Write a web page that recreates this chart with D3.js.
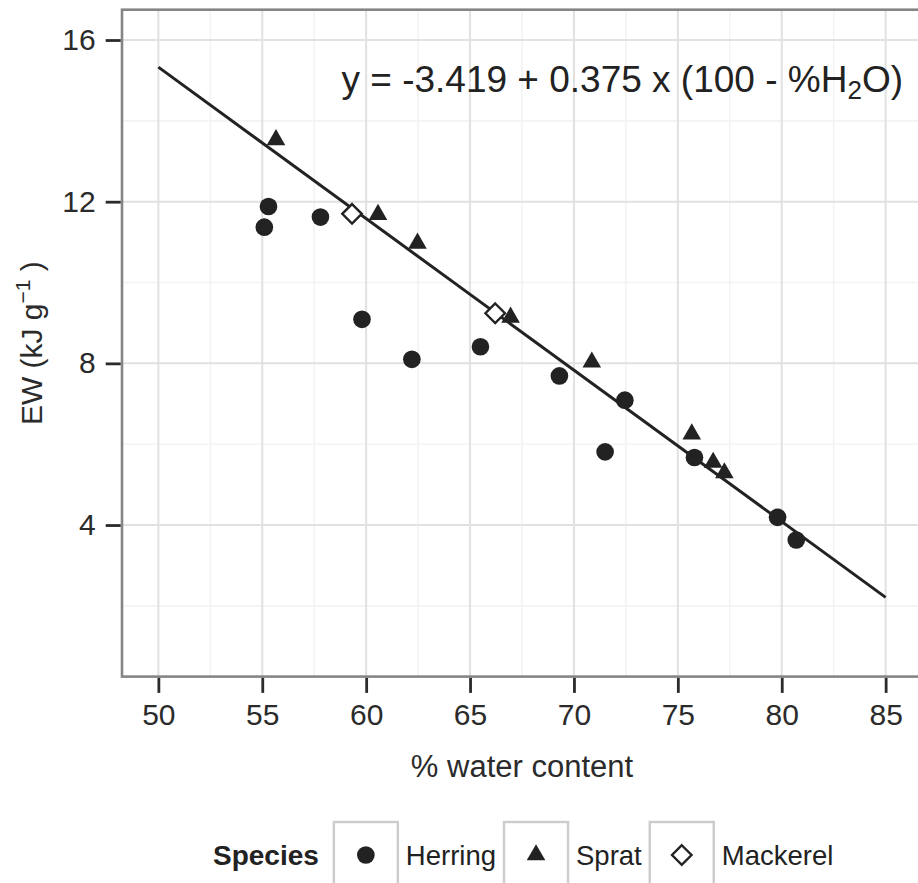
<!DOCTYPE html>
<html>
<head>
<meta charset="utf-8">
<script src="https://cdn.jsdelivr.net/npm/d3@7"></script>
<style>
  body { margin: 0; background: #fff; }
  svg { display: block; font-family: "Liberation Sans", Arial, sans-serif; }
  .axis text { fill: #2b2b2b; }
  .axis line { stroke: #2b2b2b; }
</style>
</head>
<body>
<div id="chart"></div>
<script>
// Data
const species = ['Herring', 'Sprat', 'Mackerel'];

const herringWater = [55.1, 55.3, 57.8, 59.8, 62.2, 65.5, 69.3, 71.5, 72.45, 75.8, 79.8, 80.7];
const herringEW = [11.37, 11.88, 11.62, 9.09, 8.10, 8.41, 7.69, 5.81, 7.09, 5.67, 4.19, 3.63];

const spratWater = [55.66, 60.57, 62.47, 66.95, 70.86, 75.67, 76.70, 77.24];
const spratEW = [13.53, 11.68, 10.97, 9.14, 8.03, 6.25, 5.55, 5.29];

const mackerelWater = [59.32, 66.21];
const mackerelEW = [11.70, 9.24];

// fitted line end points
const fitWater = [50, 85];
const fitEW = [15.33, 2.21];

const xTicks = [50, 55, 60, 65, 70, 75, 80, 85];
const yTicks = [4, 8, 12, 16];

class EnergyScatter {
  constructor(_config) {
    this.config = {
      parentElement: _config.parentElement,
      containerWidth: 918,
      containerHeight: 883,
      margin: {
        top: 9.7, right: -4, bottom: 206.4, left: 122,
      },
    };
    this.initVis();
  }

  initVis() {
    const vis = this;

    vis.width = vis.config.containerWidth - vis.config.margin.left - vis.config.margin.right;
    vis.height = vis.config.containerHeight - vis.config.margin.top - vis.config.margin.bottom;

    vis.svg = d3.select(vis.config.parentElement).append('svg')
      .attr('width', vis.config.containerWidth)
      .attr('height', vis.config.containerHeight);

    vis.chart = vis.svg.append('g')
      .attr('transform', `translate(${vis.config.margin.left},${vis.config.margin.top})`);

    // limits 1..16 and 50..85 with 5% expansion
    vis.xScale = d3.scaleLinear().domain([48.25, 86.75]).range([0, vis.width]);
    vis.yScale = d3.scaleLinear().domain([0.25, 16.75]).range([vis.height, 0]);

    vis.chart.append('clipPath').attr('id', 'panel-clip')
      .append('rect').attr('width', vis.width).attr('height', vis.height);

    vis.updateVis();
  }

  updateVis() {
    const vis = this;

    const toPoints = (xs, ys, s) => xs.map((x, i) => ({ water: x, ew: ys[i], species: s }));
    vis.points = [
      ...toPoints(herringWater, herringEW, 'Herring'),
      ...toPoints(spratWater, spratEW, 'Sprat'),
      ...toPoints(mackerelWater, mackerelEW, 'Mackerel'),
    ];
    vis.fit = fitWater.map((x, i) => ({ water: x, ew: fitEW[i] }));

    // open diamond like ggplot shape 5
    const diamond = {
      draw(context, size) {
        const r = Math.sqrt(size / 2);
        context.moveTo(0, -r);
        context.lineTo(r, 0);
        context.lineTo(0, r);
        context.lineTo(-r, 0);
        context.closePath();
      },
    };
    vis.symbolFor = (s) => {
      if (s === 'Herring') return d3.symbol().type(d3.symbolCircle).size(245)();
      if (s === 'Sprat') return d3.symbol().type(d3.symbolTriangle).size(150)();
      return d3.symbol().type(diamond).size(190)();
    };

    vis.renderVis();
  }

  renderVis() {
    const vis = this;
    const panel = vis.chart.append('g').attr('clip-path', 'url(#panel-clip)');

    // grid
    const minorX = d3.range(47.5, 90, 5);
    const minorY = d3.range(2, 18, 4);
    panel.selectAll('.minor-x').data(minorX).join('line')
      .attr('x1', (d) => vis.xScale(d)).attr('x2', (d) => vis.xScale(d))
      .attr('y1', 0).attr('y2', vis.height)
      .attr('stroke', '#f3f3f3').attr('stroke-width', 1.6);
    panel.selectAll('.minor-y').data(minorY).join('line')
      .attr('y1', (d) => vis.yScale(d)).attr('y2', (d) => vis.yScale(d))
      .attr('x1', 0).attr('x2', vis.width)
      .attr('stroke', '#f3f3f3').attr('stroke-width', 1.6);
    panel.selectAll('.major-x').data(xTicks).join('line')
      .attr('x1', (d) => vis.xScale(d)).attr('x2', (d) => vis.xScale(d))
      .attr('y1', 0).attr('y2', vis.height)
      .attr('stroke', '#e1e1e1').attr('stroke-width', 2);
    panel.selectAll('.major-y').data(yTicks).join('line')
      .attr('y1', (d) => vis.yScale(d)).attr('y2', (d) => vis.yScale(d))
      .attr('x1', 0).attr('x2', vis.width)
      .attr('stroke', '#e1e1e1').attr('stroke-width', 2);

    // fitted line
    const line = d3.line().x((d) => vis.xScale(d.water)).y((d) => vis.yScale(d.ew));
    panel.append('path').datum(vis.fit)
      .attr('d', line)
      .attr('fill', 'none')
      .attr('stroke', '#222')
      .attr('stroke-width', 3);

    // points
    panel.selectAll('.pt').data(vis.points).join('path')
      .attr('class', 'pt')
      .attr('transform', (d) => `translate(${vis.xScale(d.water)},${vis.yScale(d.ew)})`)
      .attr('d', (d) => vis.symbolFor(d.species))
      .attr('fill', (d) => (d.species === 'Mackerel' ? '#fff' : '#222'))
      .attr('stroke', (d) => (d.species === 'Mackerel' ? '#222' : 'none'))
      .attr('stroke-width', 2.4);

    // equation
    const eq = vis.chart.append('text')
      .attr('x', 903 - vis.config.margin.left)
      .attr('y', 92 - vis.config.margin.top)
      .attr('text-anchor', 'end')
      .attr('font-size', 37)
      .attr('fill', '#222');
    eq.append('tspan').text('y = -3.419 + 0.375 x (100 - %H');
    eq.append('tspan').attr('font-size', 26).attr('dy', 7).text('2');
    eq.append('tspan').attr('dy', -7).text('O)');

    // panel border
    vis.chart.append('rect')
      .attr('width', vis.width).attr('height', vis.height)
      .attr('fill', 'none').attr('stroke', '#858585').attr('stroke-width', 2.6);

    // axes
    const xAxis = d3.axisBottom(vis.xScale).tickValues(xTicks).tickSize(15).tickPadding(11);
    const yAxis = d3.axisLeft(vis.yScale).tickValues(yTicks).tickSize(15).tickPadding(10);

    vis.chart.append('g')
      .attr('class', 'axis x-axis')
      .attr('transform', `translate(0,${vis.height + 1.3})`)
      .call(xAxis)
      .call((g) => g.select('.domain').remove())
      .call((g) => g.selectAll('.tick line').attr('stroke-width', 2.8))
      .call((g) => g.selectAll('.tick text').attr('font-size', 30).attr('font-family', null));

    vis.chart.append('g')
      .attr('class', 'axis y-axis')
      .attr('transform', 'translate(-1.3,0)')
      .call(yAxis)
      .call((g) => g.select('.domain').remove())
      .call((g) => g.selectAll('.tick line').attr('stroke-width', 2.8))
      .call((g) => g.selectAll('.tick text').attr('font-size', 30).attr('font-family', null));

    // axis titles
    vis.svg.append('text')
      .attr('x', vis.config.margin.left + vis.width / 2)
      .attr('y', 777)
      .attr('text-anchor', 'middle')
      .attr('font-size', 31)
      .attr('fill', '#2b2b2b')
      .text('% water content');

    const yt = vis.svg.append('text')
      .attr('transform', `translate(42,${vis.config.margin.top + vis.height / 2}) rotate(-90)`)
      .attr('text-anchor', 'middle')
      .attr('font-size', 30)
      .attr('fill', '#2b2b2b');
    yt.append('tspan').text('EW (kJ g');
    yt.append('tspan').attr('font-size', 21).attr('dy', -12).text('\u22121');
    yt.append('tspan').attr('dy', 12).text(' )');

    // legend
    const legend = vis.svg.append('g');
    const title = legend.append('text')
      .attr('x', 213).attr('y', 865)
      .attr('font-size', 28).attr('font-weight', 'bold')
      .attr('fill', '#222')
      .text('Species');
    let lx = 213 + title.node().getComputedTextLength() + 15;
    species.forEach((s) => {
      legend.append('rect')
        .attr('x', lx).attr('y', 822)
        .attr('width', 64).attr('height', 64)
        .attr('fill', '#fff').attr('stroke', '#cccccc').attr('stroke-width', 2.4);
      legend.append('path')
        .attr('transform', `translate(${lx + 32},${855})`)
        .attr('d', vis.symbolFor(s))
        .attr('fill', s === 'Mackerel' ? '#fff' : '#222')
        .attr('stroke', s === 'Mackerel' ? '#222' : 'none')
        .attr('stroke-width', 2.4);
      const label = legend.append('text')
        .attr('x', lx + 72).attr('y', 865)
        .attr('font-size', 27.5)
        .attr('fill', '#222')
        .text(s);
      lx += 72 + label.node().getComputedTextLength() + 8;
    });
  }
}

new EnergyScatter({ parentElement: '#chart' });
</script>
</body>
</html>
